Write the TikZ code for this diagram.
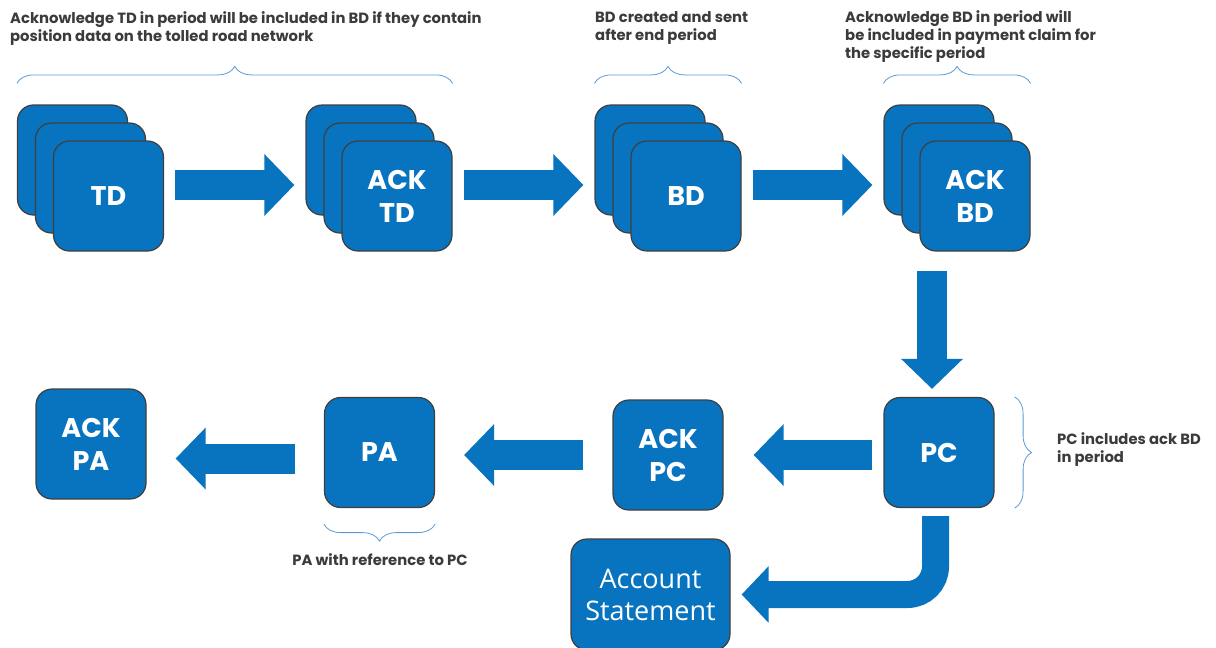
\documentclass[tikz,border=0pt]{standalone}
\usepackage{fontspec}
\setmainfont{Poppins}
\newfontfamily\statementfont{Open Sans}
\usepackage{tikz}
\usetikzlibrary{arrows.meta, positioning, calc, decorations.pathreplacing}
\definecolor{tileblue}{HTML}{0873BE}
\definecolor{tileedge}{HTML}{3F3F3F}
\definecolor{bracecol}{HTML}{5B9BD5}
\definecolor{notetext}{HTML}{3B3B3B}
\tikzstyle{tile} = [rectangle, rounded corners=16pt, minimum width=110pt, minimum height=110pt, inner sep=0pt, draw=tileedge, line width=1.2pt, fill=tileblue, text=white, align=center, font=\fontsize{27}{33}\selectfont\bfseries]
\tikzstyle{blockarrow} = [draw=tileblue, line width=30pt, -{Triangle[length=30pt, width=60pt]}]
\tikzstyle{note} = [text=notetext, inner sep=0pt, align=left, font=\fontsize{14.8}{18}\selectfont\bfseries]
\tikzstyle{notebrace} = [draw=bracecol, line width=0.8pt, decorate, decoration={brace, amplitude=17pt}]

\begin{document}
\begin{tikzpicture}[x=1pt, y=-1pt]
    \useasboundingbox[fill=white] (0,0) rectangle (1216,648);

    % top row: stacks of messages
    \node[tile] (tdA) at (72.5,160) {};
    \node[tile] (tdB) at ([shift={(18,18)}]tdA) {};
    \node[tile] (td) at ([shift={(18,18)}]tdB) {TD};
    \node[tile] (acktdA) at (361,160) {};
    \node[tile] (acktdB) at ([shift={(18,18)}]acktdA) {};
    \node[tile] (acktd) at ([shift={(18,18)}]acktdB) {ACK\\TD};
    \node[tile] (bdA) at (650,160) {};
    \node[tile] (bdB) at ([shift={(18,18)}]bdA) {};
    \node[tile] (bd) at ([shift={(18,18)}]bdB) {BD};
    \node[tile] (ackbdA) at (939,160) {};
    \node[tile] (ackbdB) at ([shift={(18,18)}]ackbdA) {};
    \node[tile] (ackbd) at ([shift={(18,18)}]ackbdB) {ACK\\BD};

    % bottom row
    \node[tile] (pc) at (939,452.5) {PC};
    \node[tile] (ackpc) at (668,455) {ACK\\PC};
    \node[tile] (pa) at (379.5,452.5) {PA};
    \node[tile] (ackpa) at (91,444) {ACK\\PA};
    \node[tile, minimum width=159pt, minimum height=111pt, font=\statementfont\fontsize{27}{32}\selectfont] (acct) at (650.5,594.5) {Account\\Statement};

    % block arrows
    \draw[blockarrow, shorten <=11pt, shorten >=11pt] ([yshift=11pt]td.east) -- ([yshift=11pt]td.east -| acktdA.west);
    \draw[blockarrow, shorten <=11pt, shorten >=11pt] ([yshift=11pt]acktd.east) -- ([yshift=11pt]acktd.east -| bdA.west);
    \draw[blockarrow, shorten <=11pt, shorten >=11pt] ([yshift=11pt]bd.east) -- ([yshift=11pt]bd.east -| ackbdA.west);
    \draw[blockarrow, shorten <=19pt, shorten >=8pt] ([xshift=-7pt]pc.north |- ackbd.south) -- ([xshift=-7pt]pc.north);
    \draw[blockarrow, shorten <=11pt, shorten >=30pt] (ackpc.east -| pc.west) -- (ackpc.east);
    \draw[blockarrow, shorten <=29pt, shorten >=29pt] (ackpc.west) -- (ackpc.west -| pa.east);
    \draw[blockarrow, shorten <=29pt, shorten >=29pt] ([yshift=-6pt]pa.west) -- ([yshift=-6pt]pa.west -| ackpa.east);
    \draw[blockarrow, line width=27pt, -{Triangle[length=27pt, width=55pt]}, rounded corners=28pt, shorten <=8pt, shorten >=11pt] ([xshift=-3.5pt]pc.south) |- (acct.east);

    % braces and notes
    \draw[notebrace] ([yshift=21pt]tdA.north west) -- ([yshift=21pt]acktdA.north west -| acktd.east);
    \draw[notebrace] ([yshift=21pt]bdA.north west) -- ([yshift=21pt]bdA.north west -| bd.east);
    \draw[notebrace] ([yshift=21pt]ackbdA.north west) -- ([yshift=21pt]ackbdA.north west -| ackbd.east);
    \draw[notebrace] ([xshift=20pt]pc.north east) -- ([xshift=20pt]pc.south east);
    \draw[notebrace] ([yshift=-16pt]pa.south east) -- ([yshift=-16pt]pa.south west);

    \node[note, anchor=base west] (tdnote) at (10,41) {Acknowledge TD in period will be included in BD if they contain\\position data on the tolled road network};
    \node[note, anchor=base west] (bdnote) at (595,40) {BD created and sent\\after end period};
    \node[note, anchor=base west] (ackbdnote) at (845,58) {Acknowledge BD in period will\\be included in payment claim for\\the specific period};
    \node[note, anchor=base west] (pcnote) at (1057,462) {PC includes ack BD\\in period};
    \node[note, anchor=base] (panote) at (380,565) {PA with reference to PC};
\end{tikzpicture}
\end{document}
